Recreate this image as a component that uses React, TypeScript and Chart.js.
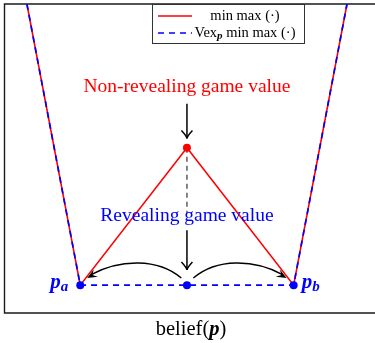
import React, { useEffect, useRef } from "react";
import { Chart, registerables } from "chart.js";

Chart.register(...registerables);

// ---- data (belief on x, game value on y) ----
const minmaxBeliefs = [0.2, 0.3, 0.5, 0.7, 0.8];
const minmaxValues = [1.0, 0.09, 0.535, 0.09, 1.0];
const vexBeliefs = [0.2, 0.3, 0.5, 0.7, 0.8];
const vexValues = [1.0, 0.09, 0.09, 0.09, 1.0];
const revealBeliefs = [0.3, 0.5, 0.7];
const revealValues = [0.09, 0.09, 0.09];
const nonRevealBeliefs = [0.5];
const nonRevealValues = [0.535];
const gapBeliefs = [0.5, 0.5];
const gapValues = [0.535, 0.323];

const xRange = [0.158, 0.845];
const yRange = [0, 1];

const legendLabels = ["min max (·)", "min max (·)"];
const xTitle = ["belief(", "p", ")"];
const nonRevealText = "Non-revealing game value";
const revealText = "Revealing game value";
const pointNames = ["p", "a", "p", "b"];

// annotation anchors in data units
const nonRevealLabelAt = [0.5, 0.732];
const revealLabelAt = [0.5, 0.313];
const topArrow = [0.5, 0.677, 0.5, 0.565];
const bottomArrow = [0.5, 0.268, 0.5, 0.139];
const leftCurve = [0.4895, 0.113, 0.313, 0.113];
const rightCurve = [0.512, 0.113, 0.6866, 0.113];

const SERIF = '"Liberation Serif", "Times New Roman", serif';

function openHead(ctx: CanvasRenderingContext2D, x: number, y: number, ang: number) {
  const L = 8, W = 5.5;
  const c = Math.cos(ang), s = Math.sin(ang);
  ctx.beginPath();
  ctx.moveTo(x - L * c - W * s, y - L * s + W * c);
  ctx.quadraticCurveTo(x - 2 * c, y - 2 * s, x, y);
  ctx.quadraticCurveTo(x - 2 * c, y - 2 * s, x - L * c + W * s, y - L * s - W * c);
  ctx.stroke();
}

function filledHead(ctx: CanvasRenderingContext2D, x: number, y: number, ang: number) {
  const L = 10, W = 4.2;
  const c = Math.cos(ang), s = Math.sin(ang);
  ctx.beginPath();
  ctx.moveTo(x, y);
  ctx.lineTo(x - L * c - W * s, y - L * s + W * c);
  ctx.lineTo(x - 0.6 * L * c, y - 0.6 * L * s);
  ctx.lineTo(x - L * c + W * s, y - L * s - W * c);
  ctx.closePath();
  ctx.fill();
}

const decorPlugin = {
  id: "decor",
  beforeDatasetsDraw(chart: any) {
    const { ctx, chartArea } = chart;
    ctx.save();
    ctx.strokeStyle = "#1a1a1a";
    ctx.lineWidth = 1.4;
    ctx.beginPath();
    ctx.moveTo(chart.width + 2, chartArea.top);
    ctx.lineTo(chartArea.left, chartArea.top);
    ctx.lineTo(chartArea.left, chartArea.bottom);
    ctx.lineTo(chart.width + 2, chartArea.bottom);
    ctx.stroke();
    ctx.restore();
  },
  afterDatasetsDraw(chart: any) {
    const { ctx, chartArea } = chart;
    const xs = chart.scales.x, ys = chart.scales.y;
    const px = (v: number) => xs.getPixelForValue(v);
    const py = (v: number) => ys.getPixelForValue(v);
    ctx.save();

    // straight arrows
    ctx.strokeStyle = "#000";
    ctx.lineWidth = 1.5;
    [topArrow, bottomArrow].forEach((a) => {
      const x1 = px(a[0]), y1 = py(a[1]), x2 = px(a[2]), y2 = py(a[3]);
      ctx.beginPath();
      ctx.moveTo(x1, y1);
      ctx.lineTo(x2, y2);
      ctx.stroke();
      openHead(ctx, x2, y2, Math.atan2(y2 - y1, x2 - x1));
    });

    // curved arrows
    ctx.fillStyle = "#000";
    ctx.lineWidth = 1.4;
    [leftCurve, rightCurve].forEach((a) => {
      const sx = px(a[0]), sy = py(a[1]), ex = px(a[2]), ey = py(a[3]);
      const dx = ex - sx;
      const c1x = sx + dx * 0.25, c1y = sy - 20;
      const c2x = sx + dx * 0.65, c2y = sy - 19;
      ctx.beginPath();
      ctx.moveTo(sx, sy);
      ctx.bezierCurveTo(c1x, c1y, c2x, c2y, ex - Math.sign(dx) * 4, ey - 3.5);
      ctx.stroke();
      filledHead(ctx, ex, ey, Math.atan2(ey - c2y, ex - c2x));
    });

    // annotation texts
    ctx.textAlign = "center";
    ctx.textBaseline = "middle";
    ctx.font = `19.5px ${SERIF}`;
    ctx.fillStyle = "#ff0000";
    ctx.fillText(nonRevealText, px(nonRevealLabelAt[0]), py(nonRevealLabelAt[1]));
    ctx.fillStyle = "#0000ff";
    ctx.fillText(revealText, px(revealLabelAt[0]), py(revealLabelAt[1]));

    // point names
    const baseY = py(revealValues[0]) + 3;
    ctx.textBaseline = "alphabetic";
    ctx.textAlign = "left";
    ctx.fillStyle = "#0000ff";
    const drawName = (p: string, sub: string, x: number) => {
      ctx.font = `italic bold 21px ${SERIF}`;
      const w = ctx.measureText(p).width;
      ctx.fillText(p, x, baseY);
      ctx.font = `italic bold 15px ${SERIF}`;
      ctx.fillText(sub, x + w, baseY + 3);
    };
    const leftX = px(revealBeliefs[0]);
    const rightX = px(revealBeliefs[2]);
    drawName(pointNames[0], pointNames[1], leftX - 30);
    drawName(pointNames[2], pointNames[3], rightX + 8);

    // x axis title
    ctx.fillStyle = "#000";
    const parts = [
      { t: xTitle[0], f: `20.5px ${SERIF}` },
      { t: xTitle[1], f: `italic bold 20.5px ${SERIF}` },
      { t: xTitle[2], f: `20.5px ${SERIF}` },
    ];
    let total = 0;
    parts.forEach((p) => { ctx.font = p.f; total += ctx.measureText(p.t).width; });
    let cx = 191 - total / 2;
    const ty = chartArea.bottom + 22;
    parts.forEach((p) => { ctx.font = p.f; ctx.fillText(p.t, cx, ty); cx += ctx.measureText(p.t).width; });

    // legend box
    const bx = 152, by = chartArea.top, bw = 152, bh = 39;
    ctx.fillStyle = "#fff";
    ctx.fillRect(bx, by, bw, bh);
    ctx.strokeStyle = "#333";
    ctx.lineWidth = 1;
    ctx.strokeRect(bx + 0.5, by + 0.5, bw, bh);
    ctx.lineWidth = 1.5;
    ctx.strokeStyle = "#ff0000";
    ctx.beginPath(); ctx.moveTo(158, by + 12); ctx.lineTo(192, by + 12); ctx.stroke();
    ctx.strokeStyle = "#0000ff";
    ctx.setLineDash([6, 5]);
    ctx.beginPath(); ctx.moveTo(158, by + 29); ctx.lineTo(192, by + 29); ctx.stroke();
    ctx.setLineDash([]);
    ctx.fillStyle = "#000";
    ctx.textBaseline = "middle";
    ctx.textAlign = "center";
    ctx.font = `14.5px ${SERIF}`;
    ctx.fillText(legendLabels[0], 245, by + 12);
    // second: Vex_p min max (·)
    ctx.textAlign = "left";
    const seg = [
      { t: "Vex", f: `14.5px ${SERIF}`, dy: 0 },
      { t: "p", f: `italic bold 11px ${SERIF}`, dy: 3 },
      { t: " " + legendLabels[1], f: `14.5px ${SERIF}`, dy: 0 },
    ];
    let tw = 0;
    seg.forEach((s) => { ctx.font = s.f; tw += ctx.measureText(s.t).width; });
    let lx = 245 - tw / 2;
    seg.forEach((s) => { ctx.font = s.f; ctx.fillText(s.t, lx, by + 29 + s.dy); lx += ctx.measureText(s.t).width; });

    ctx.restore();
  },
};

const zip = (xs: number[], ys: number[]) => xs.map((x, i) => ({ x, y: ys[i] }));

export default function App() {
  const ref = useRef<HTMLCanvasElement | null>(null);
  useEffect(() => {
    if (!ref.current) return;
    const chart = new Chart(ref.current, {
      type: "line",
      data: {
        datasets: [
          {
            label: "nonreveal",
            data: zip(nonRevealBeliefs, nonRevealValues),
            showLine: false,
            pointRadius: 4,
            pointBackgroundColor: "#ff0000",
            pointBorderWidth: 0,
            order: 0,
          },
          {
            label: "reveal",
            data: zip(revealBeliefs, revealValues),
            showLine: false,
            pointRadius: 4,
            pointBackgroundColor: "#0000ff",
            pointBorderWidth: 0,
            order: 0,
          },
          {
            label: "Vex",
            data: zip(vexBeliefs, vexValues),
            borderColor: "#0000ff",
            borderWidth: 1.7,
            borderDash: [6, 5],
            pointRadius: 0,
            order: 1,
          },
          {
            label: "minmax",
            data: zip(minmaxBeliefs, minmaxValues),
            borderColor: "#ff0000",
            borderWidth: 1.6,
            pointRadius: 0,
            order: 2,
          },
          {
            label: "gap",
            data: zip(gapBeliefs, gapValues),
            borderColor: "#666666",
            borderWidth: 1.6,
            borderDash: [5, 4],
            pointRadius: 0,
            order: 3,
          },
        ],
      },
      options: {
        responsive: false,
        animation: false,
        events: [],
        layout: { padding: { left: 4.5, top: 3, right: 0, bottom: 30 } },
        plugins: { legend: { display: false }, tooltip: { enabled: false } },
        scales: {
          x: { type: "linear", min: xRange[0], max: xRange[1], display: false },
          y: { type: "linear", min: yRange[0], max: yRange[1], display: false },
        },
      },
      plugins: [decorPlugin],
    });
    return () => chart.destroy();
  }, []);
  return (
    <div style={{ position: "absolute", left: 0, top: 0, width: 375, height: 343, background: "#fff" }}>
      <canvas ref={ref} width={375} height={343} />
    </div>
  );
}
